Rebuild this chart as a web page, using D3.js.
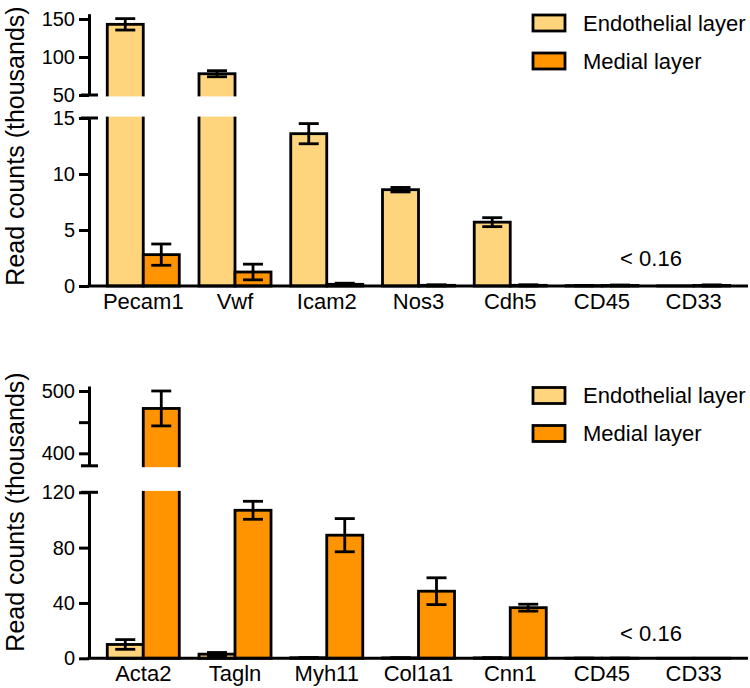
<!DOCTYPE html>
<html>
<head>
<meta charset="utf-8">
<script src="https://cdn.jsdelivr.net/npm/d3@7"></script>
<style>
  html, body { margin: 0; padding: 0; background: #fff; }
  svg text { font-family: "Liberation Sans", Arial, Helvetica, sans-serif; fill: #000; }
</style>
</head>
<body>
<svg id="chart" width="750" height="688"></svg>
<script>
// ---------- DATA ----------
const seriesNames = ["Endothelial layer", "Medial layer"];

const topCategories = ["Pecam1", "Vwf", "Icam2", "Nos3", "Cdh5", "CD45", "CD33"];
const topEndo       = [143, 78, 13.6, 8.6, 5.7, 0.03, 0.01];
const topEndoErr    = [7.5, 4, 0.9, 0.2, 0.4, 0.02, 0];
const topMedial     = [2.8, 1.25, 0.15, 0.06, 0.06, 0.05, 0.05];
const topMedialErr  = [0.95, 0.7, 0.1, 0.05, 0.05, 0.04, 0.05];
const topLowerTicks = [0, 5, 10, 15];
const topUpperTicks = [50, 100, 150];

const botCategories = ["Acta2", "Tagln", "Myh11", "Col1a1", "Cnn1", "CD45", "CD33"];
const botEndo       = [10, 3, 0.4, 0.3, 0.3, 0.05, 0.02];
const botEndoErr    = [3.5, 1.2, 0.1, 0.1, 0.1, 0.05, 0];
const botMedial     = [472, 107, 89, 48.5, 36.6, 0.05, 0.05];
const botMedialErr  = [28, 6.5, 12, 9.7, 2.5, 0.05, 0];
const botLowerTicks = [0, 40, 80, 120];
const botUpperTicks = [400, 450, 500];
const botUpperLabels = [400, 500];

const annotation = "< 0.16";
const yTitle = "Read counts (thousands)";

// ---------- STYLE ----------
const colors = ["#FED47C", "#FF9400"];
const svg = d3.select("#chart");
const axisX = 89, rightX = 748;

function drawPanel(cfg) {
  const g = svg.append("g");
  const x = d3.scaleBand().domain(cfg.categories).range([axisX, rightX])
    .paddingInner(0.215).paddingOuter(0.199);
  const xs = d3.scaleBand().domain([0, 1]).range([0, x.bandwidth()]);

  const lower = d3.scaleLinear().domain(cfg.lowerDomain).range(cfg.lowerRange);
  const upper = d3.scaleLinear().domain(cfg.upperDomain).range(cfg.upperRange);
  const y = v => v <= cfg.lowerDomain[1] ? lower(v) : upper(v);
  const y0 = lower(0);

  const rows = [];
  cfg.categories.forEach((c, i) => {
    rows.push({c, s: 0, v: cfg.endo[i], e: cfg.endoErr[i]});
    rows.push({c, s: 1, v: cfg.medial[i], e: cfg.medialErr[i]});
  });

  // bars
  g.selectAll("rect.bar").data(rows).enter().append("rect")
    .attr("class", "bar")
    .attr("x", d => x(d.c) + xs(d.s))
    .attr("width", xs.bandwidth())
    .attr("y", d => y(d.v))
    .attr("height", d => Math.max(0.01, y0 - y(d.v)))
    .attr("fill", d => colors[d.s])
    .attr("stroke", "#000").attr("stroke-width", 2.8);

  // error bars
  const eb = g.selectAll("g.err").data(rows.filter(d => d.e > 0)).enter().append("g")
    .attr("stroke", "#000").attr("stroke-width", 2.8);
  const cx = d => x(d.c) + xs(d.s) + xs.bandwidth() / 2;
  eb.append("line").attr("x1", cx).attr("x2", cx)
    .attr("y1", d => y(d.v + d.e)).attr("y2", d => y(Math.max(0, d.v - d.e)));
  eb.append("line").attr("x1", d => cx(d) - 10).attr("x2", d => cx(d) + 10)
    .attr("y1", d => y(d.v + d.e)).attr("y2", d => y(d.v + d.e));
  eb.append("line").attr("x1", d => cx(d) - 10).attr("x2", d => cx(d) + 10)
    .attr("y1", d => y(Math.max(0, d.v - d.e))).attr("y2", d => y(Math.max(0, d.v - d.e)));

  // break gap
  const gapTop = upper(cfg.upperDomain[0]);
  const gapBot = lower(cfg.lowerDomain[1]);
  g.append("rect").attr("x", axisX + 2).attr("width", rightX - axisX)
    .attr("y", gapTop + 1.4).attr("height", gapBot - gapTop - 2.8).attr("fill", "#fff");

  // y axes
  const fs = "20px";
  const ay1 = g.append("g").attr("transform", `translate(${axisX},0)`)
    .call(d3.axisLeft(lower).tickValues(cfg.lowerTicks).tickSize(10).tickSizeOuter(0).tickPadding(4));
  const ay2 = g.append("g").attr("transform", `translate(${axisX},0)`)
    .call(d3.axisLeft(upper).tickValues(cfg.upperTicks).tickSize(10).tickSizeOuter(0).tickPadding(4)
      .tickFormat(v => cfg.upperLabels.includes(v) ? v : ""));
  [ay1, ay2].forEach(a => {
    a.selectAll("path.domain").attr("stroke-width", 3);
    a.selectAll(".tick line").attr("stroke-width", 3);
    a.selectAll(".tick text").style("font-size", fs);
  });
  // break caps
  [gapTop, gapBot].forEach(yy => {
    g.append("line").attr("x1", axisX - 8).attr("x2", axisX + 9)
      .attr("y1", yy).attr("y2", yy).attr("stroke", "#000").attr("stroke-width", 3);
  });

  // x axis
  const ax = g.append("g").attr("transform", `translate(0,${y0})`)
    .call(d3.axisBottom(x).tickSize(0).tickPadding(7));
  ax.select("path.domain").attr("stroke-width", 3).attr("d", `M${axisX - 1.5},0H${rightX}`);
  ax.selectAll(".tick text").style("font-size", "22px");

  // y title
  g.append("text").attr("transform", `translate(${cfg.titleX},${cfg.titleY}) rotate(-90)`)
    .attr("text-anchor", "middle").style("font-size", "25px").text(yTitle);

  // annotation
  g.append("text").attr("x", 651).attr("y", cfg.annY).attr("dy", "0.35em")
    .attr("text-anchor", "middle").style("font-size", "22px").text(annotation);

  // legend
  const lg = g.selectAll("g.leg").data(seriesNames).enter().append("g")
    .attr("transform", (d, i) => `translate(533,${cfg.legY + i * 38})`);
  lg.append("rect").attr("x", 0).attr("y", -8).attr("width", 32).attr("height", 16)
    .attr("fill", (d, i) => colors[i]).attr("stroke", "#000").attr("stroke-width", 2.8);
  lg.append("text").attr("x", 50).attr("y", 0).attr("dy", "0.35em")
    .style("font-size", "22px").text(d => d);
}

drawPanel({
  categories: topCategories, endo: topEndo, endoErr: topEndoErr,
  medial: topMedial, medialErr: topMedialErr,
  lowerDomain: [0, 15], lowerRange: [286, 118],
  upperDomain: [50, 157], upperRange: [95, 13.7],
  lowerTicks: topLowerTicks, upperTicks: topUpperTicks, upperLabels: topUpperTicks,
  titleX: 24, titleY: 146, annY: 258, legY: 23
});

drawPanel({
  categories: botCategories, endo: botEndo, endoErr: botEndoErr,
  medial: botMedial, medialErr: botMedialErr,
  lowerDomain: [0, 120], lowerRange: [658.3, 492.3],
  upperDomain: [380, 508], upperRange: [465.8, 386],
  lowerTicks: botLowerTicks, upperTicks: botUpperTicks, upperLabels: botUpperLabels,
  titleX: 24, titleY: 512, annY: 633, legY: 395.5
});
</script>
</body>
</html>
